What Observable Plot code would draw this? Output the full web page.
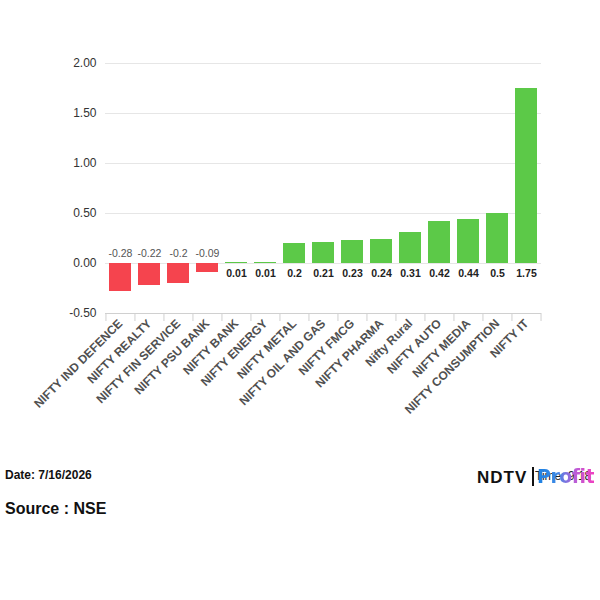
<!DOCTYPE html>
<html><head><meta charset="utf-8">
<script src="https://cdn.jsdelivr.net/npm/d3@7"></script>
<script src="https://cdn.jsdelivr.net/npm/@observablehq/plot@0.6"></script>
<style>
body{margin:0;background:#fff;font-family:"Liberation Sans",Arial,sans-serif;width:600px;height:600px;position:relative;overflow:hidden}
#chart{position:absolute;left:0;top:0}
.foot{position:absolute;font-weight:bold;color:#111;white-space:nowrap}
#date{left:5px;top:468px;font-size:12px}
#source{left:5px;top:500px;font-size:16px}
#ndtv{left:477px;top:468px;font-size:17px;letter-spacing:1px;color:#111;font-weight:bold}
#bar{position:absolute;left:532px;top:467px;width:2px;height:19px;background:#111}
#time{left:535px;top:469px;font-size:12px;font-weight:normal;color:#222}
#profit{left:537px;top:465px;font-size:19px;font-family:"DejaVu Sans",sans-serif;background:linear-gradient(90deg,#1a80e2 0%,#3d8ae6 35%,#b65fd8 65%,#f040c0 100%);-webkit-background-clip:text;background-clip:text;color:transparent;letter-spacing:-0.5px}
</style></head><body>
<div id="chart"></div>
<div class="foot" id="date">Date: 7/16/2026</div>
<div class="foot" id="source">Source : NSE</div>
<div class="foot" id="ndtv">NDTV</div>
<div id="bar"></div>
<div class="foot" id="time">Time: 9:18</div>
<div class="foot" id="profit">Profit</div>
<script>
const categories = ["NIFTY IND DEFENCE","NIFTY REALTY","NIFTY FIN SERVICE","NIFTY PSU BANK","NIFTY BANK","NIFTY ENERGY","NIFTY METAL","NIFTY OIL AND GAS","NIFTY FMCG","NIFTY PHARMA","Nifty Rural","NIFTY AUTO","NIFTY MEDIA","NIFTY CONSUMPTION","NIFTY IT"];
const changes = [-0.28,-0.22,-0.2,-0.09,0.01,0.01,0.2,0.21,0.23,0.24,0.31,0.42,0.44,0.5,1.75];
const yTicks = [-0.5,0,0.5,1,1.5,2];
const yDomain = [-0.5,2];

const data = categories.map((name,i)=>({name, value: changes[i]}));
const neg = data.filter(d=>d.value<0);
const pos = data.filter(d=>d.value>=0);
const RED = "#f5444e", GREEN = "#5cc948";

const W = 600, H = 450, ML = 105, MR = 59;
const step = (W - ML - MR) / categories.length;

const chart = Plot.plot({
  width: W, height: H,
  marginLeft: ML, marginRight: MR, marginTop: 63, marginBottom: 137,
  style: {fontFamily: "Liberation Sans, Arial, sans-serif", background: "#fff"},
  x: {domain: categories, paddingInner: 0.24, paddingOuter: 0.12, label: null},
  y: {domain: yDomain, label: null},
  marks: [
    Plot.ruleY(yTicks.filter(v=>v>yDomain[0]), {stroke: "#e6e6e6", strokeWidth: 1}),
    Plot.ruleY([yDomain[0]], {stroke: "#d0d0d0", strokeWidth: 1}),
    Plot.ruleX(categories, {x: d=>d, y1: yDomain[0], y2: yDomain[0]-0.08, dx: -step/2, stroke: "#d0d0d0"}),
    Plot.ruleX(categories.slice(-1), {x: d=>d, y1: yDomain[0], y2: yDomain[0]-0.08, dx: step/2, stroke: "#d0d0d0"}),
    Plot.barY(neg, {x: "name", y: "value", fill: RED}),
    Plot.barY(pos, {x: "name", y: "value", fill: GREEN}),
    Plot.text(neg, {x: "name", y: () => 0, text: d=>String(d.value), dy: -10, fontSize: 10.5, fill: "#555"}),
    Plot.text(pos, {x: "name", y: () => 0, text: d=>String(d.value), dy: 10, fontSize: 10.5, fontWeight: "bold", fill: "#222"}),
    Plot.axisY({ticks: yTicks, tickFormat: d=>d.toFixed(2), tickSize: 0, tickPadding: 9, fontSize: 12, color: "#333", label: null}),
    Plot.axisX({tickRotate: -45, tickSize: 0, tickPadding: 8, fontSize: 12, fontWeight: "bold", color: "#505050", label: null})
  ]
});
document.getElementById("chart").appendChild(chart);
</script>
</body></html>
